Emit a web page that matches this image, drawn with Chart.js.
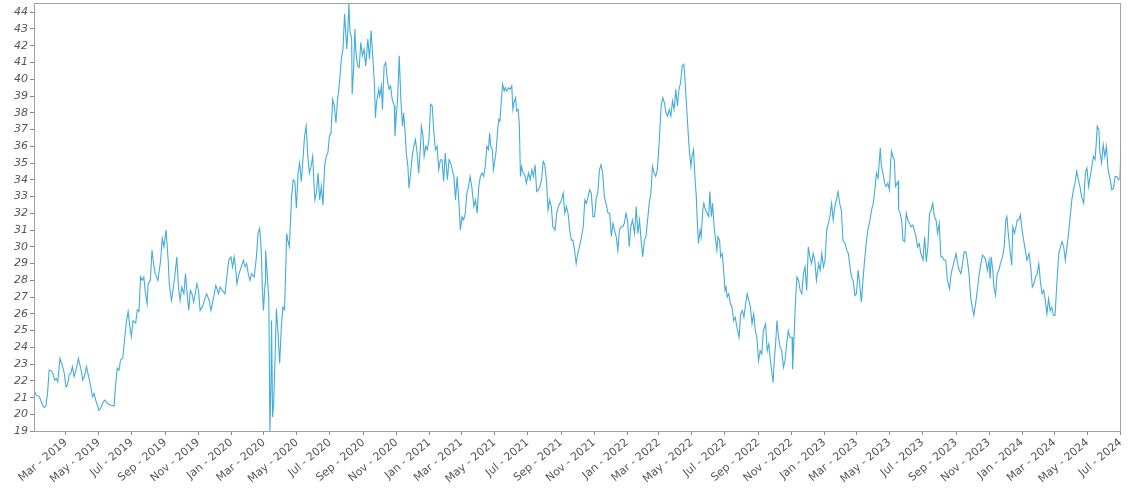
<!DOCTYPE html>
<html>
<head>
<meta charset="utf-8">
<script src="https://cdn.jsdelivr.net/npm/chart.js@4/dist/chart.umd.min.js"></script>
<style>
  html, body { margin: 0; padding: 0; background: #fff; }
  #wrap { width: 1130px; height: 489px; position: relative; }
</style>
</head>
<body>
<div id="wrap"><canvas id="price-chart"></canvas></div>
<script>
window.addEventListener("DOMContentLoaded", () => {

  // days counted from 2019-01-01
  const dayOffsets = [
    0, 4, 10, 16, 19, 22, 25, 28, 32, 35, 38, 41, 44, 48, 53, 56, 59, 62, 65, 68,
    71, 74, 77, 82, 87, 90, 93, 97, 101, 105, 108, 111, 114, 120, 123, 128, 131, 136, 142, 148,
    151, 154, 157, 160, 164, 168, 171, 174, 177, 180, 183, 188, 191, 194, 197, 200, 203, 206, 209, 211,
    215, 218, 221, 224, 229, 234, 237, 240, 244, 248, 250, 254, 256, 260, 264, 267, 270, 273, 277, 280,
    283, 286, 289, 292, 295, 298, 301, 304, 307, 311, 315, 319, 324, 327, 332, 336, 341, 344, 348, 353,
    357, 360, 364, 367, 370, 373, 375, 379, 383, 387, 390, 393, 396, 399, 402, 407, 411, 414, 417, 420,
    422, 424, 427, 428, 431, 434, 436, 438, 439, 441, 443, 445, 448, 451, 454, 457, 460, 463, 465, 467,
    469, 472, 476, 479, 482, 485, 488,
    491, 494, 497, 500, 503, 506, 509, 512, 515, 519, 522, 525, 528, 531, 534, 537, 540, 543, 546, 549,
    552, 555, 558, 561, 564, 568, 571, 574, 576, 578, 580, 582, 584, 587, 588, 591, 593, 595, 598, 601,
    604, 607, 610, 613, 617, 620, 623, 626, 629, 631, 633, 637, 639, 642, 644, 647, 650, 653, 656, 659,
    662, 666, 667, 670, 672, 675, 678, 681, 683, 686, 688, 691, 693, 696, 699, 702, 705, 708, 711, 715,
    716, 719, 721, 724, 727, 730, 733, 736, 739, 742, 745, 748, 751, 754, 757, 760, 764, 767, 770, 773,
    776, 779, 782, 785, 788, 791, 794, 797, 800, 803, 806, 809, 813, 816, 819, 822, 825, 828,
    831, 834, 837, 840, 842, 844, 847, 849, 851, 854, 857, 859, 861, 863, 866, 869, 871, 874, 877, 880,
    883, 885, 887, 890, 892, 895, 897, 899, 901, 904, 907, 910, 914, 917, 920, 923, 926, 929, 932, 935,
    938, 941, 944, 947, 950, 953, 956, 959, 963, 966, 969, 972, 975, 978, 981, 984, 987, 990, 993, 996,
    999, 1002, 1005, 1008, 1012, 1015, 1018, 1021, 1024, 1027, 1030, 1033, 1036, 1039, 1042, 1045, 1048, 1051, 1054, 1057,
    1061, 1064, 1067, 1070, 1073, 1076, 1079, 1082, 1085, 1088, 1091, 1094, 1097, 1100, 1103, 1106, 1110, 1113, 1116, 1119,
    1122, 1125, 1128, 1131, 1134, 1137, 1140, 1143, 1146, 1149, 1152, 1155, 1159, 1162, 1165, 1168,
    1171, 1174, 1177, 1180, 1183, 1186, 1189, 1192, 1195, 1198, 1201, 1203, 1206, 1209, 1211, 1214, 1216, 1219, 1221, 1224,
    1226, 1228, 1231, 1233, 1236, 1238, 1241, 1244, 1247, 1249, 1252, 1254, 1257, 1259, 1262, 1264, 1267, 1269, 1272, 1275,
    1277, 1279, 1281, 1284, 1287, 1290, 1293, 1296, 1299, 1303, 1306, 1309, 1312, 1315, 1318, 1321, 1324, 1327, 1330, 1333,
    1336, 1339, 1342, 1345, 1348, 1352, 1355, 1358, 1361, 1364, 1366, 1368, 1371, 1373, 1376, 1379, 1382, 1385, 1388, 1391,
    1394, 1397, 1401, 1402, 1405, 1407, 1410, 1413, 1416, 1419, 1422, 1425, 1428, 1431, 1434, 1437, 1440, 1443, 1446, 1450,
    1453, 1456, 1459, 1462, 1465, 1468, 1471, 1474, 1477, 1480, 1483, 1486, 1489, 1492, 1495, 1499, 1502, 1505, 1508,
    1511, 1514, 1517, 1520, 1523, 1526, 1529, 1532, 1535, 1538, 1541, 1545, 1548, 1551, 1554, 1557, 1560, 1562, 1564, 1566,
    1569, 1572, 1575, 1578, 1581, 1583, 1585, 1587, 1590, 1592, 1595, 1597, 1598, 1601, 1604, 1606, 1609, 1612, 1615, 1618,
    1621, 1624, 1627, 1630, 1633, 1636, 1639, 1643, 1646, 1649, 1652, 1655, 1658, 1661, 1664, 1667, 1670, 1673, 1676, 1679,
    1682, 1685, 1688, 1692, 1695, 1698, 1701, 1704, 1707, 1710, 1713, 1716, 1719, 1722, 1725, 1728, 1731, 1734, 1737, 1741,
    1744, 1747, 1750, 1753, 1756, 1759, 1762, 1765, 1767, 1769, 1772, 1774, 1777, 1780, 1783, 1786, 1790, 1793, 1796, 1798,
    1800, 1803, 1807, 1809, 1812, 1815, 1817, 1820, 1823, 1826, 1829, 1832, 1835, 1839, 1842, 1845, 1848,
    1851, 1854, 1857, 1860, 1863, 1866, 1869, 1872, 1875, 1878, 1881, 1884, 1887, 1891, 1894, 1897, 1900, 1903, 1906, 1909,
    1912, 1915, 1918, 1921, 1924, 1927, 1930, 1933, 1936, 1940, 1943, 1946, 1949, 1952, 1955, 1958, 1961, 1963, 1965, 1968,
    1970, 1973, 1976, 1979, 1982, 1985, 1989, 1992, 1995, 1998, 2001, 2004, 2007, 2009
  ];

  const prices = [
    21.45, 21.15, 21.05, 20.55, 20.4, 20.5, 21.25, 22.65, 22.6, 22.45, 22.05, 22.15, 21.95, 23.35, 22.85, 22.45, 21.65, 21.75, 22.35, 22.45,
    22.85, 22.25, 22.55, 23.35, 22.65, 22.05, 22.25, 22.85, 22.25, 21.65, 21.05, 21.25, 20.85, 20.25, 20.35, 20.75, 20.85, 20.65, 20.55, 20.5,
    21.85, 22.75, 22.65, 23.25, 23.35, 24.65, 25.6, 26.15, 25.25, 24.65, 25.6, 25.45, 26.25, 26.15, 28.2, 28.0, 28.2, 27.2, 26.6, 27.8,
    28.0, 29.8, 29.0, 28.4, 28.0, 29.2, 30.5, 30.0, 31.0, 29.2, 27.8, 26.8, 27.2, 28.2, 29.4, 27.6, 26.8, 27.6, 27.2, 28.4,
    27.2, 26.2, 27.4, 27.2, 26.7, 27.2, 27.8, 27.4, 26.2, 26.4, 26.8, 27.2, 26.8, 26.2, 27.0, 27.7, 27.2, 27.6, 27.4, 27.2,
    28.4, 29.2, 29.4, 28.8, 29.4, 28.6, 27.8, 28.4, 28.8, 29.2, 28.8, 29.0, 28.4, 28.0, 28.4, 28.2, 29.4, 30.8, 31.1, 29.8,
    27.6, 26.2, 27.8, 29.8, 28.4, 26.8, 19.0, 21.85, 25.6, 19.85, 20.65, 22.85, 26.3, 24.85, 23.05, 25.15, 26.4, 26.25, 28.4, 30.8,
    30.4, 30.0, 33.0, 34.0, 33.9, 32.3, 34.4,
    35.0, 33.9, 35.2, 36.6, 37.2, 35.4, 34.4, 34.8, 35.4, 32.8, 33.2, 34.4, 32.8, 33.6, 32.5, 34.8, 35.4, 35.6, 36.6, 36.8,
    38.8, 38.4, 37.4, 38.8, 39.6, 41.2, 41.8, 43.9, 42.8, 41.8, 42.9, 44.55, 42.8, 42.5, 39.1, 40.8, 43.0, 41.6, 40.8, 40.7,
    42.2, 41.4, 41.8, 40.8, 42.4, 41.2, 42.9, 41.4, 39.8, 37.7, 38.6, 39.4, 39.0, 39.6, 38.2, 40.8, 41.0, 40.0, 39.4, 39.6,
    38.8, 38.4, 36.6, 38.0, 38.8, 41.4, 38.8, 37.2, 38.0, 36.8, 35.6, 34.8, 33.5, 34.4, 35.4, 36.0, 36.4, 35.6, 34.4, 36.4,
    37.2, 36.6, 35.4, 36.0, 35.8, 36.4, 38.5, 38.4, 36.8, 35.8, 36.0, 34.6, 35.2, 35.2, 33.9, 35.6, 34.0, 35.2, 35.0, 34.6,
    34.2, 32.8, 34.2, 32.8, 31.0, 31.8, 31.6, 32.0, 33.2, 33.6, 34.2, 33.6, 32.4, 32.8, 32.0, 33.6, 34.2, 34.4,
    34.2, 34.8, 36.0, 35.8, 36.8, 36.0, 35.8, 34.6, 35.0, 35.7, 37.0, 37.6, 37.5, 38.4, 39.7, 39.3, 39.5, 39.3, 39.5, 39.4,
    39.6, 38.2, 38.6, 38.9, 38.1, 38.2, 37.2, 34.2, 34.8, 34.4, 34.3, 33.8, 34.4, 34.0, 34.6, 34.2, 34.9, 33.3, 33.4, 33.6,
    34.0, 35.1, 34.9, 34.0, 32.2, 32.8, 32.4, 31.2, 31.0, 32.0, 32.4, 32.6, 32.8, 33.2, 32.0, 32.4, 32.0, 31.0, 30.4, 30.4,
    29.8, 29.0, 29.6, 30.0, 30.6, 31.2, 32.8, 32.6, 33.0, 33.4, 33.2, 31.8, 31.8, 32.9, 33.2, 34.6, 34.9, 34.4, 33.0, 32.6,
    32.0, 32.0, 30.6, 31.4, 31.0, 30.6, 29.8, 31.0, 31.2, 31.2, 31.4, 32.0, 31.6, 30.0, 31.2, 31.6, 30.8, 32.4, 30.8, 31.6,
    30.4, 29.4, 30.4, 30.6, 31.6, 32.6, 33.2, 34.8, 34.4, 34.2, 34.6, 36.0, 38.4, 38.9, 38.6, 38.0,
    37.8, 38.2, 37.8, 38.7, 38.2, 39.4, 38.4, 39.4, 39.8, 40.8, 40.9, 40.0, 38.4, 36.8, 35.8, 34.8, 35.4, 35.8, 34.4, 33.0,
    31.4, 30.2, 31.0, 30.6, 32.2, 32.6, 32.2, 32.0, 31.8, 33.3, 31.8, 32.6, 31.2, 30.6, 29.8, 30.6, 30.4, 29.4, 29.6, 28.4,
    27.4, 27.6, 27.0, 27.2, 26.6, 26.4, 25.6, 25.8, 25.2, 24.6, 26.0, 26.2, 25.8, 26.6, 27.2, 26.8, 26.4, 25.4, 26.0, 25.0,
    24.6, 23.2, 23.8, 23.6, 25.0, 25.4, 23.8, 24.2, 23.2, 22.4, 21.9, 23.2, 24.4, 25.6, 24.6, 24.0, 23.8, 22.8, 23.2, 24.2,
    25.0, 24.6, 24.6, 22.7, 24.8, 26.6, 28.2, 28.0, 27.4, 27.2, 28.4, 28.8, 27.4, 30.0, 29.4, 29.0, 29.6, 29.2, 28.0, 29.0,
    28.6, 29.6, 28.8, 29.2, 31.0, 31.4, 31.8, 32.6, 31.6, 32.4, 32.8, 33.3, 32.6, 32.2, 30.4, 30.2, 29.8, 29.6, 28.8,
    28.2, 28.0, 27.1, 27.2, 28.6, 27.8, 26.7, 28.0, 29.2, 30.2, 31.0, 31.6, 32.2, 32.6, 33.4, 34.4, 34.1, 35.0, 35.9, 34.8,
    34.4, 33.8, 33.6, 33.8, 33.4, 35.0, 35.7, 35.4, 35.2, 33.6, 33.8, 33.9, 32.2, 32.0, 31.4, 30.4, 30.3, 32.0, 31.6, 31.4,
    31.2, 31.3, 31.0, 30.6, 30.0, 30.2, 29.6, 29.2, 30.6, 29.1, 30.0, 32.0, 32.2, 32.6, 31.8, 31.6, 30.8, 31.4, 29.4, 29.4,
    29.2, 29.2, 28.0, 27.5, 28.4, 28.8, 29.2, 29.6, 29.0, 28.6, 28.4, 29.0, 29.7, 29.7, 29.2, 28.4, 27.0, 26.4, 25.9, 26.8,
    27.6, 28.4, 29.0, 29.5, 29.4, 29.2, 28.6, 29.2, 28.1, 29.4, 28.6, 27.6, 27.1, 28.4, 28.6, 29.0, 29.4, 30.0, 31.6, 31.8,
    31.0, 30.0, 28.9, 31.2, 30.8, 31.2, 31.6, 31.6, 31.9, 31.0, 30.4, 29.8, 29.2, 29.6, 28.8, 27.6, 27.8,
    28.2, 28.4, 29.0, 27.9, 27.2, 27.4, 26.8, 26.0, 26.9, 26.2, 26.4, 25.9, 25.9, 28.2, 29.6, 30.0, 30.3, 30.0, 29.2, 30.0,
    30.8, 31.8, 32.8, 33.4, 33.8, 34.5, 34.0, 33.6, 33.0, 32.6, 34.4, 34.7, 33.6, 34.2, 34.8, 35.4, 35.2, 36.1, 37.2, 37.0,
    35.6, 35.0, 36.1, 35.4, 36.0, 34.6, 34.0, 33.4, 33.5, 34.2, 34.2, 34.0, 34.1, 36.1
  ];

  const tickLabels = [
    "Mar - 2019", "May - 2019", "Jul - 2019", "Sep - 2019", "Nov - 2019",
    "Jan - 2020", "Mar - 2020", "May - 2020", "Jul - 2020", "Sep - 2020", "Nov - 2020",
    "Jan - 2021", "Mar - 2021", "May - 2021", "Jul - 2021", "Sep - 2021", "Nov - 2021",
    "Jan - 2022", "Mar - 2022", "May - 2022", "Jul - 2022", "Sep - 2022", "Nov - 2022",
    "Jan - 2023", "Mar - 2023", "May - 2023", "Jul - 2023", "Sep - 2023", "Nov - 2023",
    "Jan - 2024", "Mar - 2024", "May - 2024", "Jul - 2024"
  ];

  const yTickValues = [19, 20, 21, 22, 23, 24, 25, 26, 27, 28, 29, 30, 31,
    32, 33, 34, 35, 36, 37, 38, 39, 40, 41, 42, 43, 44];

  const monthNames = ["Jan", "Feb", "Mar", "Apr", "May", "Jun",
    "Jul", "Aug", "Sep", "Oct", "Nov", "Dec"];
  const DAY = 86400000;
  const origin = Date.UTC(2019, 0, 1);
  const dayOfLabel = label => {
    const [mon, yr] = label.split(" - ");
    return (Date.UTC(+yr, monthNames.indexOf(mon), 1) - origin) / DAY;
  };
  const labelByDay = new Map(tickLabels.map(l => [dayOfLabel(l), l]));

  const points = dayOffsets.map((d, i) => ({ x: d, y: prices[i] }));

  // plot outline like the original (grey frame round the data area)
  const frame = {
    id: "frame",
    afterDatasetsDraw(chart) {
      const { ctx, chartArea: a } = chart;
      ctx.save();
      ctx.strokeStyle = "#a0a0a0";
      ctx.lineWidth = 1;
      ctx.strokeRect(a.left + 0.5, a.top + 0.5, a.width - 1, a.height - 1);
      ctx.restore();
    }
  };

  new Chart(document.getElementById("price-chart"), {
    type: "line",
    data: {
      datasets: [{
        data: points,
        borderColor: "#44acd9",
        borderWidth: 1.1,
        pointRadius: 0,
        tension: 0,
        fill: false
      }]
    },
    options: {
      responsive: true,
      maintainAspectRatio: false,
      animation: false,
      layout: { padding: { top: 3, right: 1, left: 0, bottom: 0 } },
      plugins: {
        legend: { display: false },
        tooltip: { enabled: false }
      },
      scales: {
        x: {
          type: "linear",
          min: 0,
          max: 2009,
          border: { display: false },
          grid: { display: true, drawOnChartArea: false, drawTicks: true, tickLength: 3, color: "#8a8a8a" },
          afterBuildTicks: scale => {
            scale.ticks = tickLabels.map(l => ({ value: dayOfLabel(l) }));
          },
          afterFit: scale => { scale.height = 57; },
          ticks: {
            autoSkip: false,
            minRotation: 40,
            maxRotation: 40,
            padding: 1,
            color: "#555",
            font: { family: "DejaVu Sans", size: 11 },
            callback: v => labelByDay.get(v) || ""
          }
        },
        y: {
          min: 18.95,
          max: 44.55,
          border: { display: false },
          grid: { display: true, drawOnChartArea: false, drawTicks: true, tickLength: 4, color: "#8a8a8a" },
          afterBuildTicks: scale => {
            scale.ticks = yTickValues.map(v => ({ value: v }));
          },
          afterFit: scale => {
            scale.width = 34;
            scale.paddingTop = 0;
            scale.paddingBottom = 0;
          },
          ticks: {
            padding: 2,
            color: "#555",
            font: { family: "DejaVu Sans", size: 11, style: "italic" },
            callback: v => String(v)
          }
        }
      }
    },
    plugins: [frame]
  });

});
</script>
</body>
</html>
